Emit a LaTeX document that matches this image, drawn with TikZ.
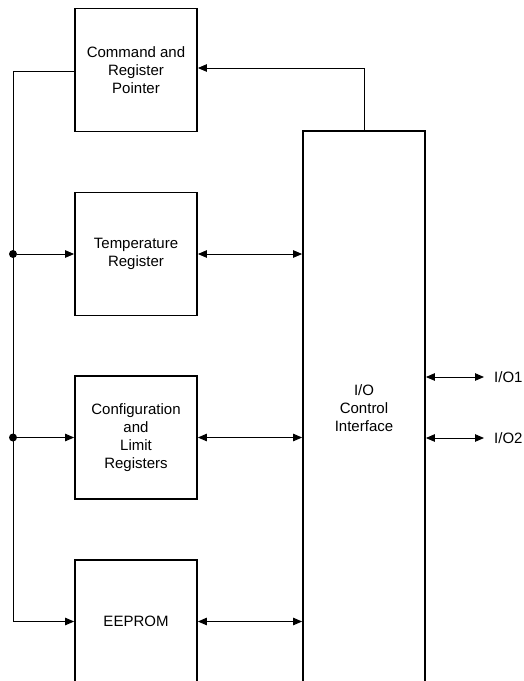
\documentclass[tikz,border=0pt]{standalone}
\usepackage{fontspec}
\setmainfont{Liberation Sans}
\usetikzlibrary{arrows.meta, positioning, calc}
\tikzstyle{arrow} = [line width=0.9pt, -{Triangle[length=9pt,width=7.5pt]}]
\tikzstyle{biarrow} = [line width=0.9pt, {Triangle[length=9pt,width=7.5pt]}-{Triangle[length=9pt,width=7.5pt]}]

\begin{document}
\begin{tikzpicture}[x=1pt, y=-1pt,
    block/.style={rectangle, draw=black, line width=1.8pt, minimum width=122pt, minimum height=123pt, align=center, inner sep=0pt, font=\fontsize{15}{18}\selectfont},
    junction/.style={circle, fill=black, inner sep=0pt, minimum size=8pt},
    port/.style={anchor=west, inner xsep=10pt, inner ysep=0pt, font=\fontsize{15}{18}\selectfont},
]
\clip (0,0) rectangle (524,681);

% Blocks
\node[block] (cmd) at (136,70) {Command and\\Register\\Pointer};
\node[block] (temp) at (136,254) {Temperature\\Register};
\node[block] (cfg) at (136,437.5) {Configuration\\and\\Limit\\Registers};
\node[block] (eeprom) at (136,621.5) {EEPROM};
\node[block, minimum height=554pt] (io) at (364,408) {I/O\\Control\\Interface};

% Bus on the left
\coordinate (bustop) at (13,71);
\coordinate (busbot) at (13,621.5);
\draw[line width=0.9pt] ([yshift=-1pt]cmd.west) -- (bustop) -- (busbot);
\draw[arrow] (busbot) -- (eeprom.west);
\node[junction] (jtemp) at (bustop |- temp.west) {};
\node[junction] (jcfg) at (bustop |- cfg.west) {};
\draw[arrow] (jtemp) -- (temp.west);
\draw[arrow] (jcfg) -- (cfg.west);

% Feedback to command register
\draw[arrow] (io.north) |- ([yshift=2pt]cmd.east);

% Data paths
\draw[biarrow] (temp.east) -- (temp.east -| io.west);
\draw[biarrow] (cfg.east) -- (cfg.east -| io.west);
\draw[biarrow] (eeprom.east) -- (eeprom.east -| io.west);

% Ports
\node[port] (io1) at (484,377) {I/O1};
\node[port] (io2) at (484,438) {I/O2};
\draw[biarrow] (io1.west -| io.east) -- (io1.west);
\draw[biarrow] (io2.west -| io.east) -- (io2.west);

\end{tikzpicture}
\end{document}
